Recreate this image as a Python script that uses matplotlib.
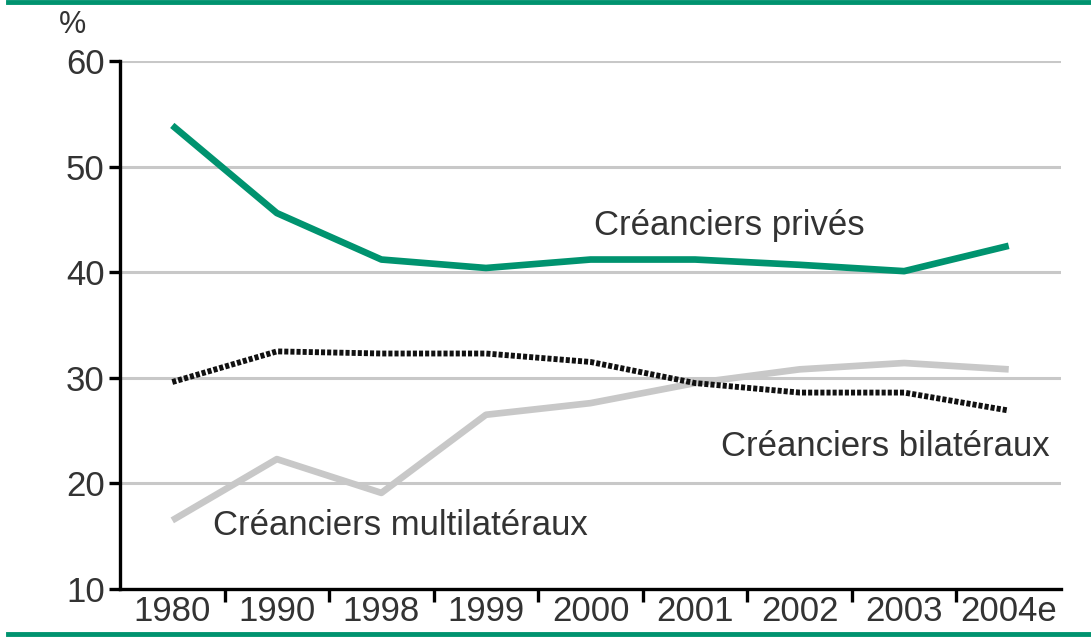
import matplotlib.pyplot as plt
import numpy as np

plt.rcParams['font.family'] = ['Liberation Sans', 'DejaVu Sans']

years = ['1980', '1990', '1998', '1999', '2000', '2001', '2002', '2003', '2004e']
prives = [53.9, 45.6, 41.2, 40.4, 41.2, 41.2, 40.7, 40.1, 42.5]
bilateraux = [29.6, 32.5, 32.3, 32.3, 31.5, 29.5, 28.6, 28.6, 26.9]
multilateraux = [16.5, 22.3, 19.1, 26.5, 27.6, 29.5, 30.8, 31.4, 30.8]

green = '#00936f'
grey = '#c8c8c8'
txt = '#333333'

fig = plt.figure(figsize=(10.91, 6.38), dpi=100)
ax = fig.add_axes([120 / 1091, 1 - 589 / 638, (1061 - 120) / 1091, (589 - 61) / 638])

x = np.arange(len(years))
ax.set_xlim(-0.5, len(years) - 0.5)
ax.set_ylim(10, 60)

for v in [20, 30, 40, 50, 60]:
    ax.axhline(v, color=grey, lw=2.2, zorder=1)

ax.plot(x, multilateraux, color=grey, lw=4.8, solid_capstyle='butt', zorder=2)
ax.plot(x, bilateraux, color='#111111', lw=4.2, linestyle=(0, (0.7, 0.35)),
        dash_capstyle='butt', zorder=3)
ax.plot(x, prives, color=green, lw=4.8, solid_capstyle='butt', zorder=4)

ax.text(5.33, 44.4, 'Créanciers privés', fontsize=25, color=txt,
        ha='center', va='center')
ax.text(6.82, 23.5, 'Créanciers bilatéraux', fontsize=25, color=txt,
        ha='center', va='center')
ax.text(2.18, 16.0, 'Créanciers multilatéraux', fontsize=25, color=txt,
        ha='center', va='center')

for s in ['top', 'right']:
    ax.spines[s].set_visible(False)
for s in ['left', 'bottom']:
    ax.spines[s].set_linewidth(2.4)

ax.set_yticks([10, 20, 30, 40, 50, 60])
ax.tick_params(axis='y', length=8, width=2.4, labelsize=25, labelcolor=txt, pad=3)
ax.set_xticks(x)
ax.set_xticklabels(years)
ax.tick_params(axis='x', which='major', length=0, labelsize=25, labelcolor=txt, pad=4)
ax.set_xticks(np.arange(0.5, len(years) - 1, 1), minor=True)
ax.tick_params(axis='x', which='minor', length=9, width=2.4)

fig.text(72 / 1091, 1 - 25 / 638, '%', fontsize=22, color=txt, ha='center', va='center')

# green rules top and bottom
fig.add_artist(plt.Line2D([8 / 1091, 1], [1 - 2 / 638, 1 - 2 / 638], color=green, lw=3.5))
fig.add_artist(plt.Line2D([8 / 1091, 1], [1 - 634 / 638, 1 - 634 / 638], color=green, lw=3.5))

fig.savefig('out.png', dpi=100)
